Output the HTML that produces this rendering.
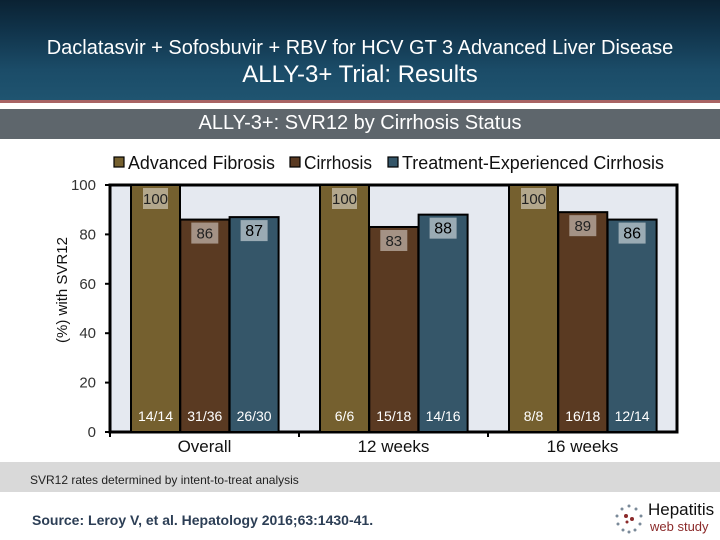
<!DOCTYPE html>
<html><head><meta charset="utf-8">
<style>
body{margin:0;width:720px;height:540px;overflow:hidden;background:#fff;font-family:"Liberation Sans",sans-serif;position:relative}
.hdr{position:absolute;left:0;top:0;width:720px;height:100px;background:linear-gradient(180deg,#0b2233 0%,#10334a 30%,#1b4c68 70%,#1f5470 100%)}
.t1{position:absolute;top:37px;width:720px;text-align:center;color:#fff;font-size:20px}
.t2{position:absolute;top:61px;width:720px;text-align:center;color:#fff;font-size:24px}
.red{position:absolute;left:0;top:100px;width:720px;height:3px;background:#a86464}
.band{position:absolute;left:0;top:109px;width:720px;height:30px;background:#5e666c;color:#fff;font-size:20px;text-align:center;line-height:28px}
.foot{position:absolute;left:0;top:462px;width:720px;height:30px;background:#d9d9d9;font-size:12px;line-height:36px;padding-left:30px;box-sizing:border-box;color:#222}
.src{position:absolute;left:32px;top:512px;font-size:14px;font-weight:bold;color:#2c3e55}
.logo1{position:absolute;left:648px;top:500px;font-size:17px;color:#111}
.logo2{position:absolute;left:650px;top:519px;font-size:13px;color:#8b2a2a}
</style></head><body>
<div class="hdr"></div>
<div class="t1">Daclatasvir + Sofosbuvir + RBV for HCV GT 3 Advanced Liver Disease</div>
<div class="t2">ALLY-3+ Trial: Results</div>
<div class="red"></div>
<div class="band">ALLY-3+: SVR12 by Cirrhosis Status</div>
<svg id="chart" width="720" height="540" style="position:absolute;left:0;top:0"></svg>
<div class="foot">SVR12 rates determined by intent-to-treat analysis</div>
<div class="src">Source: Leroy V, et al. Hepatology 2016;63:1430-41.</div>
<svg style="position:absolute;left:612px;top:502px" width="34" height="32">
<g fill="#7a8a99"><circle cx="17" cy="4" r="1.5"/><circle cx="10" cy="7" r="1.5"/><circle cx="24" cy="7" r="1.5"/><circle cx="5" cy="14" r="1.5"/><circle cx="29" cy="14" r="1.5"/><circle cx="6" cy="22" r="1.5"/><circle cx="28" cy="22" r="1.5"/><circle cx="11" cy="28" r="1.5"/><circle cx="23" cy="28" r="1.5"/><circle cx="17" cy="30" r="1.5"/></g>
<g fill="#8b2a2a"><circle cx="14" cy="14" r="2"/><circle cx="20" cy="17" r="2"/><circle cx="15" cy="20" r="1.5"/></g></svg>
<div class="logo1">Hepatitis</div>
<div class="logo2">web study</div>
<script>
const groups=["Overall","12 weeks","16 weeks"];
const seriesNames=["Advanced Fibrosis","Cirrhosis","Treatment-Experienced Cirrhosis"];
const advFibrosis=[100,100,100];
const cirrhosis=[86,83,89];
const teCirrhosis=[87,88,86];
const fractions=[["14/14","31/36","26/30"],["6/6","15/18","14/16"],["8/8","16/18","12/14"]];
const yTicks=[0,20,40,60,80,100];
const colors=["#75602f","#5a3a22","#355669"];
const series=[advFibrosis,cirrhosis,teCirrhosis];
const svg=document.getElementById('chart');const NS="http://www.w3.org/2000/svg";
const L=110,R=677,T=185,B=432;
const y=v=>B-(v/100)*(B-T);
const gw=(R-L)/groups.length;
const x=(g,s)=>L+g*gw+21+s*49.3;
function mk(t,a,txt){const e=document.createElementNS(NS,t);for(const k in a)e.setAttribute(k,a[k]);if(txt!==undefined)e.textContent=txt;svg.appendChild(e);return e;}
let e=mk('rect',{x:L,y:T,width:R-L,height:B-T,fill:"#e5e9f0",stroke:"#000","stroke-width":3});

series.forEach((ser,s)=>ser.forEach((v,g)=>{
 const bx=x(g,s);
 let r=mk('rect',{x:bx,y:y(v),width:49,height:B-y(v),fill:colors[s],stroke:"#000","stroke-width":2});
 
 
 let bb=mk('rect',{x:bx+(s===0?12:11),y:y(v)+3,width:s===0?25:27,height:21,fill:"#ffffff","fill-opacity":s===2?0.5:0.45});
 
 
 let t=mk('text',{x:bx+24.5,y:y(v)+19,"text-anchor":"middle","font-size":s===2?16:15,fill:s===2?"#000":"#222"},String(v));
 
 
 let f=mk('text',{x:bx+24.5,y:B-11,"text-anchor":"middle","font-size":14,fill:"#fff"},fractions[g][s]);
 
 
}));
yTicks.forEach(v=>{
 let l=mk('line',{x1:L-5,x2:L,y1:y(v),y2:y(v),stroke:"#000","stroke-width":2});
 
 
 let t=mk('text',{x:L-14,y:y(v)+5,"text-anchor":"end","font-size":15,fill:"#333"},String(v));
 
 
});
groups.forEach((gname,g)=>{
 let l=mk('line',{x1:L+g*gw,x2:L+g*gw,y1:B,y2:B+5,stroke:"#000","stroke-width":2});
 
 
 let t=mk('text',{x:L+g*gw+gw/2,y:B+20,"text-anchor":"middle","font-size":17,fill:"#111"},gname);
 
 
});
let yt=mk('text',{x:0,y:0,transform:"translate(67,290) rotate(-90)","text-anchor":"middle","font-size":15,fill:"#111"},"(%) with SVR12");


const lx=[114,290,388];
seriesNames.forEach((n,s)=>{
 let r=mk('rect',{x:lx[s],y:157,width:10,height:10,fill:colors[s],stroke:"#000","stroke-width":1.2});
 
 
 let t=mk('text',{x:lx[s]+14,y:169,"font-size":18,fill:"#111",textLength:s===0?147:(s===1?68:262),lengthAdjust:"spacingAndGlyphs"},n);
 
 
});
</script>
</body></html>
